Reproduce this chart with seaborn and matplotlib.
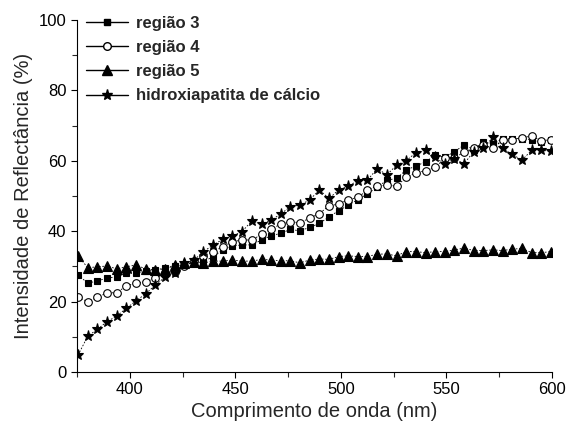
import matplotlib
matplotlib.use("Agg")
import matplotlib.pyplot as plt
from matplotlib.lines import Line2D
from matplotlib.ticker import MultipleLocator
import pandas as pd
import seaborn as sns

# wavelengths (nm)
wavelength = [375.5, 380.1, 384.6, 389.2, 393.8, 398.4, 402.9, 407.5, 412.1, 416.6,
              421.2, 425.8, 430.4, 434.9, 439.5, 444.1, 448.6, 453.2, 457.8, 462.4,
              466.9, 471.5, 476.1, 480.6, 485.2, 489.8, 494.4, 498.9, 503.5, 508.1,
              512.6, 517.2, 521.8, 526.4, 530.9, 535.5, 540.1, 544.6, 549.2, 553.8,
              558.4, 562.9, 567.5, 572.1, 576.6, 581.2, 585.8, 590.4, 594.9, 599.5]

regiao3 = [27.6, 25.2, 25.9, 26.6, 27.1, 28.0, 28.0, 28.8, 29.0, 29.5,
           30.0, 30.5, 31.0, 31.3, 32.8, 34.7, 35.8, 36.1, 36.1, 37.5,
           38.7, 39.4, 40.5, 40.1, 41.1, 42.2, 44.1, 45.8, 47.4, 49.0,
           50.6, 52.5, 54.5, 55.0, 57.4, 58.5, 59.7, 61.6, 61.0, 62.6,
           64.5, 63.2, 65.4, 64.9, 66.3, 66.3, 66.3, 65.9, 65.2, 65.9]

regiao4 = [21.2, 20.0, 21.2, 22.5, 22.5, 24.5, 25.2, 25.7, 26.6, 28.0,
           28.5, 30.0, 31.5, 33.0, 34.2, 35.6, 37.0, 37.5, 37.5, 39.1,
           40.6, 42.0, 42.7, 42.4, 43.7, 45.0, 47.2, 47.7, 49.0, 49.6,
           51.7, 52.8, 53.1, 52.8, 55.3, 56.6, 57.2, 58.1, 60.7, 60.7,
           62.6, 63.5, 64.5, 63.5, 65.9, 66.0, 66.6, 67.0, 65.7, 66.0]

regiao5 = [33.0, 29.6, 29.9, 30.1, 29.3, 29.9, 30.4, 29.3, 29.0, 29.3,
           30.4, 30.9, 31.2, 31.0, 31.5, 31.5, 31.8, 31.5, 31.5, 32.0,
           31.8, 31.6, 31.6, 31.0, 31.8, 32.1, 32.0, 32.8, 33.0, 32.8,
           32.8, 33.5, 33.5, 33.0, 34.2, 34.2, 33.9, 34.2, 34.2, 34.7,
           35.2, 34.5, 34.5, 34.7, 34.5, 34.9, 35.1, 33.9, 33.9, 34.2]

hidroxiapatita = [4.8, 10.2, 12.1, 14.3, 15.9, 18.1, 20.2, 22.2, 24.7, 26.9,
                  28.2, 30.9, 31.8, 34.2, 36.1, 37.7, 38.6, 39.9, 42.9, 42.0,
                  43.1, 44.9, 47.0, 47.4, 48.9, 51.7, 49.3, 51.7, 52.8, 54.4,
                  54.5, 57.8, 56.0, 58.8, 60.0, 62.3, 63.0, 61.0, 59.0, 60.5,
                  59.2, 62.6, 63.5, 66.8, 63.5, 61.8, 60.2, 63.0, 63.0, 62.7]

labels = ["região 3", "região 4", "região 5", "hidroxiapatita de cálcio"]
series = [regiao3, regiao4, regiao5, hidroxiapatita]

sns.set_theme(style="ticks")
plt.rcParams["font.family"] = ["Liberation Sans", "DejaVu Sans"]

styles = [
    dict(marker="s", markersize=5.0, markerfacecolor="black"),
    dict(marker="o", markersize=5.5, markerfacecolor="white"),
    dict(marker="^", markersize=6.5, markerfacecolor="black"),
    dict(marker="*", markersize=8.0, markerfacecolor="black"),
]

fig = plt.figure(figsize=(5.68, 4.30), dpi=100)
ax = fig.add_axes([0.1356, 0.1349, 0.8362, 0.8186])

for label, values, st in zip(labels, series, styles):
    df = pd.DataFrame({"x": wavelength, "y": values})
    sns.lineplot(data=df, x="x", y="y", ax=ax, color="black", linewidth=0.6,
                 linestyle=(0, (2, 2)), markeredgecolor="black",
                 markeredgewidth=0.8, **st)

ax.set_xlim(375, 600)
ax.set_ylim(0, 100)
ax.xaxis.set_major_locator(MultipleLocator(50))
ax.xaxis.set_minor_locator(MultipleLocator(25))
ax.yaxis.set_major_locator(MultipleLocator(20))
ax.yaxis.set_minor_locator(MultipleLocator(10))
ax.tick_params(which="major", direction="out", length=4, width=0.8, labelsize=12, colors="black")
ax.tick_params(which="minor", direction="out", length=3.5, width=0.8)
sns.despine(ax=ax)
for s in ["left", "bottom"]:
    ax.spines[s].set_linewidth(0.8)
    ax.spines[s].set_color("black")

ax.set_xlabel("Comprimento de onda (nm)", fontsize=14.5, labelpad=3)
ax.set_ylabel("Intensidade de Reflectância (%)", fontsize=14.5, labelpad=4)

handles = [Line2D([], [], color="black", linewidth=1.0, markeredgecolor="black", **st)
           for st in styles]
leg = fig.legend(handles, labels, loc="upper left", bbox_to_anchor=(0.152, 0.963),
                 frameon=False, borderpad=0, borderaxespad=0, handlelength=2.5,
                 handletextpad=0.5, labelspacing=0.55,
                 prop={"size": 12, "weight": "bold"})

fig.savefig("out.png", dpi=100)
